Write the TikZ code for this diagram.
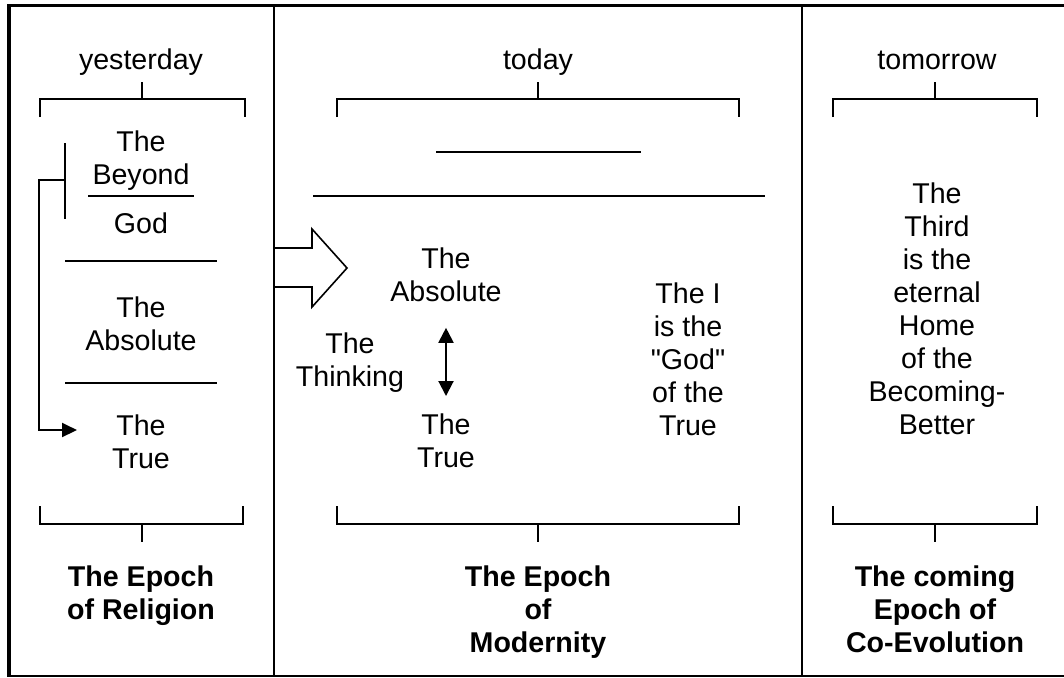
\documentclass[tikz,border=0pt]{standalone}
\usepackage{fontspec}
\setmainfont{Liberation Sans}
\newfontfamily\qfont{Liberation Sans}
\newcommand{\sq}{{\qfont\symbol{34}}}
\usetikzlibrary{arrows.meta}
\begin{document}
\begin{tikzpicture}[x=0.5pt,y=-0.5pt,
  txt/.style={font=\fontsize{14.3}{16.5}\selectfont, align=center, inner sep=0pt, anchor=north},
  btxt/.style={txt, font=\fontsize{14.3}{16.5}\selectfont\bfseries},
  ln/.style={line width=1pt},
  br/.style={line width=0.9pt},
  divider/.style={line width=1.25pt},
  tip/.style={-{Triangle[length=7.5pt,width=7pt]}},
  dtip/.style={{Triangle[length=7.5pt,width=7.5pt]}-{Triangle[length=7.5pt,width=7.5pt]}}
]
\useasboundingbox (0,0) rectangle (1064,677);
% frame
\draw[line width=1.5pt] (7,5.5) -- (1064,5.5);
\draw[line width=2pt] (9,4) -- (9,677);
\draw[line width=0.8pt] (9,676) -- (1064,676);
\draw[divider] (274,5) -- (274,676);
\draw[divider] (802,5) -- (802,676);

% ---------- left panel ----------
\node[txt] (yest) at (141,48) {yesterday};
\draw[br] (40,117) -- (40,99) -- (245,99) -- (245,117);
\draw[br] (142,99) -- (142,82);
\node[txt] (beyond) at (141,130) {The\\Beyond};
\draw[ln] (88,196) -- (194,196);
\node[txt] (god) at (141,212) {God};
\draw[ln] (65,143) -- (65,219);
\draw[ln] (65,261) -- (217,261);
\node[txt] (absL) at (141,296) {The\\Absolute};
\draw[ln] (65,383) -- (217,383);
\node[txt] (trueL) at (141,414) {The\\True};
\coordinate (barm) at (65,180);
\coordinate (ltip) at (77,430);
\draw[ln,tip] (barm) -- (39,180) |- (ltip);
\draw[br] (40,506) -- (40,524) -- (243,524) -- (243,506);
\draw[br] (142,524) -- (142,542);
\node[btxt] (eprel) at (141,565) {The Epoch\\of Religion};

% ---------- middle panel ----------
\node[txt] (today) at (538,48) {today};
\draw[br] (337,117) -- (337,99) -- (739,99) -- (739,117);
\draw[br] (538,99) -- (538,82);
\draw[ln] (436,152) -- (641,152);
\draw[ln] (313,196) -- (765,196);
\draw[line width=0.8pt] (274,248) -- (312,248) -- (312,229) -- (347,268) -- (312,307) -- (312,287) -- (274,287);
\node[txt] (absM) at (446,247) {The\\Absolute};
\node[txt] (think) at (350,332) {The\\Thinking};
\node[txt] (trueM) at (446,413) {The\\True};
\draw[ln,dtip] ([yshift=-13pt]absM.south) -- ([yshift=8.5pt]trueM.north);
\node[txt] (theI) at (688,282) {The I\\is the\\\sq God\sq\\of the\\True};
\draw[br] (337,506) -- (337,524) -- (739,524) -- (739,506);
\draw[br] (538,524) -- (538,542);
\node[btxt] (epmod) at (538,565) {The Epoch\\of\\Modernity};

% ---------- right panel ----------
\node[txt] (tomo) at (937,51) {tomorrow};
\draw[br] (833,117) -- (833,99) -- (1037,99) -- (1037,117);
\draw[br] (935,99) -- (935,82);
\node[txt] (third) at (937,182) {The\\Third\\is the\\eternal\\Home\\of the\\Becoming-\\Better};
\draw[br] (833,506) -- (833,524) -- (1037,524) -- (1037,506);
\draw[br] (935,524) -- (935,542);
\node[btxt] (epco) at (935,565) {The coming\\Epoch of\\Co-Evolution};
\end{tikzpicture}
\end{document}
